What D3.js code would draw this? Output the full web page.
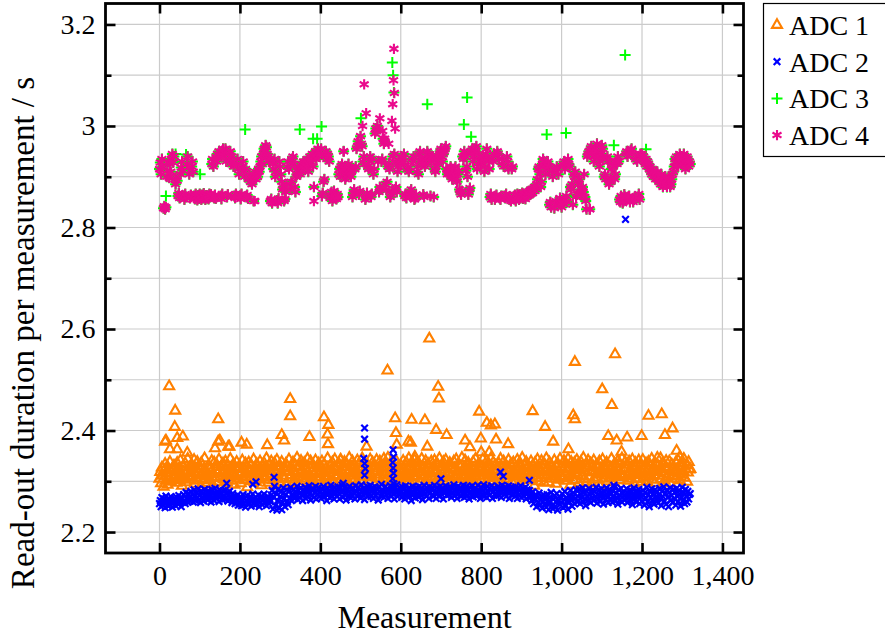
<!DOCTYPE html>
<html><head><meta charset="utf-8">
<script src="https://cdn.jsdelivr.net/npm/d3@7"></script>
<style>html,body{margin:0;padding:0;background:#fff;} svg{display:block;font-family:"Liberation Serif","Times New Roman",serif;}</style>
</head><body><svg id="c" width="885" height="637"></svg>
<script>
// measurement spacing of the sampled series (values at measurement 0, 2, 4, ...)
const step = 2;
const adc1 = [
2.305,2.318,2.296,2.327,2.311,2.289,2.322,2.334,2.301,2.315,2.293,2.326,2.308,2.338,2.299,2.317,2.325,2.304,2.331,2.312,
2.32,2.297,2.336,2.309,2.324,2.302,2.341,2.314,2.291,2.329,2.318,2.306,2.335,2.298,2.321,2.344,2.31,2.327,2.303,2.316,
2.333,2.307,2.319,2.342,2.295,2.325,2.312,2.338,2.301,2.317,2.329,2.289,2.336,2.313,2.304,2.323,2.345,2.309,2.32,2.297,
2.311,2.331,2.302,2.326,2.317,2.34,2.294,2.314,2.337,2.306,2.322,2.333,2.299,2.318,2.343,2.308,2.328,2.315,2.29,2.335,
2.304,2.321,2.339,2.312,2.297,2.33,2.319,2.308,2.344,2.323,2.301,2.316,2.334,2.293,2.327,2.31,2.338,2.305,2.324,2.313,
2.329,2.296,2.317,2.341,2.309,2.326,2.302,2.335,2.314,2.288,2.322,2.337,2.307,2.319,2.332,2.3,2.316,2.343,2.311,2.325,
2.298,2.334,2.313,2.321,2.305,2.339,2.318,2.292,2.328,2.31,2.336,2.303,2.324,2.345,2.315,2.297,2.331,2.308,2.32,2.339,
2.314,2.302,2.327,2.336,2.291,2.319,2.342,2.306,2.323,2.33,2.299,2.317,2.338,2.311,2.326,2.304,2.321,2.334,2.296,2.329,
2.318,2.343,2.307,2.325,2.312,2.296,2.337,2.32,2.303,2.331,2.315,2.346,2.309,2.294,2.328,2.317,2.34,2.305,2.322,2.313,
2.336,2.301,2.323,2.31,2.344,2.318,2.29,2.327,2.339,2.306,2.32,2.332,2.298,2.314,2.341,2.309,2.325,2.302,2.335,2.317,
2.307,2.328,2.339,2.295,2.319,2.333,2.311,2.324,2.302,2.345,2.316,2.293,2.33,2.321,2.308,2.337,2.299,2.326,2.343,2.312,
2.324,2.31,2.297,2.335,2.318,2.342,2.304,2.329,2.314,2.291,2.338,2.322,2.307,2.333,2.3,2.319,2.346,2.311,2.327,2.303,
2.339,2.316,2.33,2.305,2.324,2.296,2.341,2.313,2.334,2.32,2.301,2.328,2.345,2.309,2.317,2.336,2.293,2.323,2.311,2.332,
2.3,2.326,2.343,2.314,2.308,2.337,2.321,2.295,2.33,2.317,2.342,2.305,2.325,2.313,2.339,2.298,2.329,2.318,2.306,2.344,
2.319,2.335,2.303,2.327,2.346,2.311,2.298,2.323,2.338,2.307,2.316,2.332,2.29,2.324,2.341,2.312,2.304,2.33,2.321,2.309,
2.332,2.297,2.318,2.34,2.306,2.325,2.314,2.337,2.301,2.322,2.345,2.31,2.328,2.295,2.319,2.335,2.308,2.342,2.316,2.326,
2.311,2.338,2.323,2.299,2.331,2.317,2.344,2.305,2.326,2.313,2.292,2.34,2.32,2.307,2.334,2.324,2.3,2.316,2.339,2.309,
2.327,2.303,2.341,2.315,2.321,2.296,2.333,2.31,2.345,2.319,2.306,2.329,2.314,2.338,2.298,2.323,2.342,2.312,2.301,2.331,
2.316,2.336,2.308,2.324,2.29,2.317,2.339,2.326,2.304,2.343,2.313,2.32,2.333,2.297,2.328,2.31,2.346,2.318,2.325,2.305,
2.341,2.312,2.325,2.302,2.336,2.319,2.307,2.33,2.315,2.294,2.338,2.322,2.309,2.344,2.318,2.301,2.327,2.335,2.311,2.32,
2.303,2.329,2.343,2.317,2.311,2.326,2.298,2.34,2.321,2.306,2.333,2.314,2.345,2.3,2.323,2.337,2.308,2.319,2.331,2.296,
2.322,2.308,2.335,2.313,2.344,2.301,2.327,2.318,2.339,2.292,2.316,2.331,2.305,2.325,2.342,2.31,2.321,2.334,2.299,2.314,
2.337,2.316,2.3,2.328,2.319,2.342,2.309,2.323,2.296,2.334,2.312,2.346,2.305,2.32,2.33,2.314,2.338,2.302,2.326,2.317,
2.308,2.325,2.339,2.304,2.331,2.315,2.291,2.336,2.322,2.311,2.343,2.3,2.327,2.318,2.306,2.34,2.313,2.324,2.297,2.333,
2.32,2.345,2.312,2.326,2.298,2.337,2.317,2.305,2.33,2.321,2.309,2.341,2.314,2.295,2.328,2.335,2.303,2.319,2.344,2.31,
2.329,2.306,2.323,2.34,2.315,2.301,2.333,2.319,2.344,2.308,2.326,2.293,2.338,2.312,2.321,2.302,2.336,2.317,2.328,2.342,
2.313,2.334,2.297,2.322,2.338,2.31,2.325,2.346,2.304,2.317,2.331,2.299,2.327,2.341,2.309,2.32,2.335,2.296,2.318,2.33,
2.341,2.303,2.319,2.332,2.307,2.326,2.313,2.339,2.29,2.324,2.316,2.343,2.305,2.33,2.322,2.311,2.337,2.3,2.328,2.315,
2.306,2.327,2.344,2.312,2.321,2.298,2.335,2.317,2.329,2.309,2.34,2.32,2.302,2.333,2.314,2.345,2.308,2.324,2.311,2.338,
2.325,2.31,2.333,2.301,2.339,2.318,2.305,2.329,2.343,2.314,2.296,2.327,2.336,2.312,2.32,2.304,2.341,2.317,2.331,2.299,
2.316,2.342,2.307,2.324,2.313,2.335,2.3,2.322,2.338,2.309,2.331,2.318,2.344,2.303,2.326,2.312,2.297,2.334,2.321,2.346,
2.33,2.311,2.323,2.345,2.304,2.319,2.336,2.315,2.301,2.328,2.34,2.308,2.324,2.313,2.339,2.296,2.32,2.333,2.31,2.327,
2.318,2.305,2.337,2.322,2.31,2.341,2.315,2.302,2.329,2.336,2.313,2.32,2.344,2.307,2.325,2.332,2.299,2.317,2.338,2.323,
2.324];
const adc2 = [
2.256,2.262,2.25,2.268,2.253,2.259,2.265,2.248,2.271,2.257,2.262,2.251,2.266,2.254,2.27,2.26,2.249,2.264,2.258,2.267,
2.252,2.269,2.261,2.255,2.272,2.258,2.264,2.25,2.267,2.259,2.274,2.262,2.256,2.278,2.265,2.259,2.276,2.268,2.261,2.28,
2.266,2.274,2.259,2.283,2.27,2.262,2.277,2.268,2.285,2.264,2.273,2.258,2.281,2.269,2.276,2.261,2.284,2.272,2.266,2.279,
2.263,2.281,2.27,2.275,2.259,2.284,2.268,2.277,2.262,2.286,2.271,2.266,2.279,2.273,2.26,2.283,2.269,2.276,2.264,2.281,
2.272,2.265,2.283,2.268,2.277,2.261,2.274,2.28,2.266,2.27,2.258,2.276,2.264,2.271,2.256,2.268,2.262,2.273,2.253,2.266,
2.259,2.27,2.252,2.264,2.274,2.256,2.267,2.249,2.261,2.272,2.254,2.265,2.258,2.27,2.251,2.263,2.275,2.257,2.266,2.253,
2.268,2.256,2.262,2.273,2.25,2.266,2.259,2.271,2.254,2.264,2.275,2.258,2.267,2.252,2.262,2.27,2.256,2.265,2.26,2.273,
2.282,2.245,2.268,2.29,2.252,2.276,2.243,2.262,2.285,2.248,2.27,2.279,2.244,2.258,2.287,2.266,2.25,2.274,2.283,2.26,
2.254,2.28,2.267,2.288,2.262,2.275,2.27,2.284,2.266,2.279,2.271,2.29,2.264,2.282,2.276,2.268,2.287,2.273,2.262,2.281,
2.274,2.288,2.266,2.279,2.284,2.27,2.291,2.276,2.263,2.283,2.272,2.286,2.268,2.278,2.29,2.265,2.281,2.274,2.287,2.27,
2.279,2.266,2.285,2.273,2.29,2.269,2.282,2.276,2.262,2.287,2.274,2.28,2.267,2.292,2.271,2.284,2.277,2.265,2.288,2.275,
2.283,2.27,2.289,2.276,2.265,2.286,2.279,2.292,2.268,2.281,2.274,2.288,2.263,2.277,2.284,2.271,2.29,2.275,2.267,2.285,
2.272,2.286,2.278,2.265,2.291,2.28,2.27,2.288,2.275,2.283,2.267,2.293,2.279,2.273,2.287,2.264,2.282,2.276,2.29,2.27,
2.284,2.275,2.292,2.27,2.281,2.287,2.266,2.279,2.289,2.273,2.285,2.277,2.263,2.288,2.28,2.271,2.294,2.276,2.282,2.268,
2.279,2.29,2.273,2.285,2.266,2.283,2.276,2.291,2.27,2.281,2.288,2.274,2.265,2.286,2.278,2.293,2.27,2.282,2.275,2.287,
2.28,2.268,2.289,2.276,2.284,2.265,2.291,2.273,2.282,2.278,2.287,2.27,2.285,2.262,2.279,2.29,2.274,2.283,2.267,2.288,
2.276,2.284,2.269,2.29,2.278,2.273,2.286,2.264,2.281,2.292,2.275,2.283,2.27,2.287,2.279,2.266,2.289,2.277,2.284,2.272,
2.285,2.271,2.292,2.279,2.266,2.288,2.276,2.283,2.27,2.29,2.281,2.274,2.287,2.265,2.282,2.278,2.291,2.272,2.286,2.279,
2.274,2.289,2.281,2.268,2.286,2.277,2.293,2.271,2.284,2.279,2.266,2.29,2.275,2.283,2.288,2.27,2.281,2.276,2.292,2.268,
2.283,2.276,2.29,2.272,2.285,2.265,2.288,2.279,2.274,2.291,2.269,2.284,2.278,2.287,2.271,2.282,2.292,2.275,2.28,2.266,
2.288,2.274,2.281,2.293,2.27,2.285,2.277,2.268,2.29,2.279,2.286,2.273,2.283,2.291,2.266,2.28,2.287,2.275,2.284,2.271,
2.279,2.29,2.272,2.286,2.281,2.268,2.292,2.277,2.284,2.274,2.289,2.27,2.283,2.278,2.291,2.266,2.285,2.28,2.273,2.288,
2.276,2.284,2.27,2.289,2.279,2.266,2.287,2.274,2.282,2.291,2.268,2.28,2.285,2.271,2.278,2.288,2.265,2.283,2.276,2.27,
2.282,2.268,2.276,2.262,2.279,2.256,2.271,2.265,2.274,2.25,2.268,2.258,2.277,2.252,2.264,2.27,2.247,2.261,2.273,2.255,
2.266,2.249,2.274,2.258,2.244,2.268,2.26,2.278,2.252,2.246,2.265,2.272,2.25,2.259,2.276,2.243,2.262,2.27,2.254,2.267,
2.258,2.275,2.248,2.264,2.28,2.253,2.268,2.261,2.245,2.272,2.259,2.282,2.264,2.251,2.27,2.277,2.256,2.266,2.283,2.26,
2.271,2.262,2.284,2.256,2.275,2.268,2.287,2.259,2.279,2.265,2.252,2.281,2.27,2.263,2.286,2.274,2.258,2.278,2.267,2.283,
2.262,2.279,2.27,2.288,2.257,2.274,2.266,2.283,2.26,2.276,2.285,2.268,2.255,2.28,2.272,2.264,2.287,2.27,2.258,2.277,
2.284,2.266,2.275,2.259,2.281,2.27,2.288,2.262,2.277,2.268,2.255,2.283,2.273,2.265,2.286,2.259,2.276,2.28,2.263,2.272,
2.267,2.285,2.258,2.276,2.27,2.283,2.262,2.279,2.254,2.272,2.287,2.265,2.28,2.259,2.275,2.268,2.284,2.256,2.277,2.27,
2.261,2.282,2.272,2.253,2.278,2.266,2.288,2.259,2.274,2.25,2.28,2.268,2.285,2.262,2.276,2.255,2.283,2.27,2.264,2.279,
2.257,2.274,2.286,2.265,2.252,2.28,2.27,2.289,2.261,2.276,2.255,2.283,2.268,2.25,2.278,2.287,2.263,2.272,2.258,2.284,
2.266,2.279,2.253,2.286,2.27,2.26,2.282,2.275,2.251,2.268,2.288,2.262,2.277,2.256,2.284,2.271,2.259,2.28,2.265,2.274,
2.276];
const adc3 = [
2.915,2.928,2.905,2.935,2.92,2.838,2.842,2.836,2.84,2.9,2.912,2.93,2.898,2.925,2.91,2.935,2.945,2.928,2.94,2.895,
2.885,2.9,2.892,2.862,2.868,2.858,2.905,2.918,2.93,2.912,2.862,2.855,2.866,2.86,2.925,2.94,2.918,2.905,2.858,2.864,
2.92,2.93,2.91,2.862,2.856,2.866,2.86,2.854,2.863,2.857,2.866,2.86,2.855,2.864,2.858,2.867,2.86,2.855,2.863,2.858,
2.862,2.856,2.866,2.86,2.865,2.925,2.935,2.92,2.858,2.864,2.857,2.93,2.945,2.935,2.95,2.942,2.862,2.856,2.866,2.955,
2.948,2.94,2.955,2.93,2.86,2.865,2.945,2.935,2.95,2.925,2.94,2.93,2.92,2.862,2.858,2.866,2.925,2.935,2.915,2.905,
2.862,2.856,2.866,2.92,2.93,2.91,2.9,2.915,2.86,2.864,2.857,2.895,2.905,2.89,2.9,2.885,2.895,2.852,2.9,2.91,
2.895,2.905,2.9,2.915,2.91,2.92,2.93,2.94,2.925,2.945,2.955,2.95,2.962,2.958,2.945,2.94,2.93,2.935,2.852,2.856,
2.848,2.925,2.915,2.935,2.9,2.91,2.853,2.848,2.857,2.93,2.92,2.905,2.89,2.875,2.88,2.852,2.856,2.87,2.885,2.92,
2.93,2.915,2.885,2.875,2.89,2.935,2.94,2.925,2.88,2.87,2.9,2.905,2.91,2.92,2.915,2.905,2.925,2.91,2.92,2.93,
2.915,2.925,2.93,2.92,2.935,2.91,2.925,2.94,2.93,2.935,2.945,2.92,2.88,2.94,2.95,2.935,2.945,2.955,2.94,2.95,
2.945,2.955,2.862,2.868,2.89,2.895,2.94,2.95,2.935,2.945,2.94,2.93,2.858,2.864,2.87,2.852,2.858,2.872,2.865,2.86,
2.856,2.866,2.86,2.905,2.915,2.9,2.92,2.925,2.91,2.95,2.915,2.895,2.9,2.92,2.91,2.925,2.905,2.915,2.9,2.91,
2.86,2.868,2.875,2.915,2.92,2.955,2.96,2.97,2.865,2.872,2.98,2.965,2.96,2.93,2.94,2.925,2.855,2.86,2.868,2.92,
2.915,2.93,2.94,2.86,2.866,2.935,2.905,2.915,2.985,2.995,2.99,3.0,2.93,2.87,2.88,2.875,2.93,2.935,2.975,2.965,
2.97,2.885,2.875,2.89,2.92,2.925,2.915,2.86,2.865,2.872,2.94,2.93,2.945,2.875,2.88,2.87,2.91,2.92,2.925,2.93,
2.925,2.94,2.935,2.93,2.945,2.862,2.866,2.858,2.915,2.92,2.91,2.87,2.862,2.875,2.935,2.93,2.94,2.855,2.858,2.865,
2.91,2.92,2.905,2.945,2.95,2.93,2.935,2.925,2.865,2.86,2.92,2.925,2.935,2.95,2.945,2.94,2.935,2.862,2.93,2.94,
2.94,2.86,2.915,2.91,2.92,2.935,2.94,2.925,2.945,2.95,2.955,2.94,2.93,2.945,2.95,2.955,2.96,2.915,2.905,2.91,
2.905,2.915,2.92,2.91,2.895,2.9,2.91,2.905,2.92,2.895,2.89,2.905,2.912,2.875,2.87,2.865,2.872,2.94,2.935,2.95,
2.94,2.912,2.92,2.9,2.865,2.872,2.878,2.95,2.945,2.955,2.93,2.94,2.955,2.95,2.96,2.915,2.925,2.945,2.94,2.93,
2.925,2.93,2.94,2.935,2.91,2.92,2.945,2.955,2.94,2.93,2.915,2.86,2.866,2.855,2.935,2.93,2.945,2.855,2.86,2.864,
2.95,2.945,2.935,2.858,2.855,2.862,2.925,2.935,2.92,2.862,2.858,2.866,2.94,2.93,2.915,2.855,2.86,2.852,2.915,2.92,
2.86,2.856,2.864,2.852,2.858,2.866,2.86,2.855,2.865,2.858,2.862,2.868,2.857,2.866,2.86,2.856,2.864,2.87,2.862,2.868,
2.872,2.865,2.87,2.876,2.868,2.875,2.88,2.872,2.878,2.885,2.895,2.915,2.92,2.905,2.88,2.89,2.925,2.935,2.93,2.92,
2.905,2.915,2.925,2.93,2.92,2.845,2.85,2.84,2.91,2.9,2.915,2.838,2.845,2.852,2.92,2.915,2.905,2.85,2.858,2.845,
2.84,2.848,2.925,2.93,2.915,2.855,2.862,2.85,2.935,2.925,2.92,2.88,2.875,2.885,2.845,2.905,2.9,2.91,2.86,2.865,
2.89,2.885,2.895,2.87,2.865,2.875,2.88,2.87,2.905,2.86,2.852,2.836,2.94,2.945,2.95,2.836,2.955,2.96,2.945,2.95,
2.93,2.94,2.955,2.95,2.965,2.94,2.935,2.92,2.93,2.945,2.962,2.955,2.94,2.9,2.905,2.895,2.935,2.94,2.93,2.885,
2.89,2.895,2.915,2.925,2.92,2.9,2.895,2.905,2.93,2.925,2.94,2.93,2.855,2.85,2.862,2.858,2.848,2.852,2.865,2.86,
2.945,2.95,2.94,2.858,2.862,2.85,2.952,2.955,2.945,2.85,2.855,2.86,2.935,2.94,2.93,2.86,2.866,2.855,2.945,2.94,
2.945,2.935,2.94,2.93,2.925,2.935,2.92,2.93,2.925,2.915,2.92,2.91,2.905,2.915,2.9,2.91,2.905,2.895,2.9,2.91,
2.895,2.89,2.9,2.885,2.905,2.895,2.88,2.89,2.885,2.9,2.885,2.88,2.895,2.9,2.89,2.88,2.885,2.895,2.905,2.91,
2.92,2.935,2.93,2.94,2.925,2.92,2.935,2.945,2.93,2.94,2.925,2.935,2.945,2.93,2.915,2.925,2.94,2.935,2.92,2.93,
2.925];
const adc4 = [
2.915,2.928,2.905,2.935,2.92,2.838,2.842,2.836,2.84,2.9,2.912,2.93,2.898,2.925,2.91,2.935,2.945,2.928,2.94,2.895,
2.885,2.9,2.892,2.862,2.868,2.858,2.905,2.918,2.93,2.912,2.862,2.855,2.866,2.86,2.925,2.94,2.918,2.905,2.858,2.864,
2.92,2.93,2.91,2.862,2.856,2.866,2.86,2.854,2.863,2.857,2.866,2.86,2.855,2.864,2.858,2.867,2.86,2.855,2.863,2.858,
2.862,2.856,2.866,2.86,2.865,2.925,2.935,2.92,2.858,2.864,2.857,2.93,2.945,2.935,2.95,2.942,2.862,2.856,2.866,2.955,
2.948,2.94,2.955,2.93,2.86,2.865,2.945,2.935,2.95,2.925,2.94,2.93,2.92,2.862,2.858,2.866,2.925,2.935,2.915,2.905,
2.862,2.856,2.866,2.92,2.93,2.91,2.9,2.915,2.86,2.864,2.857,2.895,2.905,2.89,2.9,2.885,2.895,2.852,2.9,2.91,
2.895,2.905,2.9,2.915,2.91,2.92,2.93,2.94,2.925,2.945,2.955,2.95,2.962,2.958,2.945,2.94,2.93,2.935,2.852,2.856,
2.848,2.925,2.915,2.935,2.9,2.91,2.853,2.848,2.857,2.93,2.92,2.905,2.89,2.875,2.88,2.852,2.856,2.87,2.885,2.92,
2.93,2.915,2.885,2.875,2.89,2.935,2.94,2.925,2.88,2.87,2.9,2.905,2.91,2.92,2.915,2.905,2.925,2.91,2.92,2.93,
2.915,2.925,2.93,2.92,2.935,2.91,2.925,2.94,2.93,2.935,2.945,2.92,2.88,2.94,2.95,2.935,2.945,2.955,2.94,2.95,
2.945,2.955,2.862,2.868,2.89,2.895,2.94,2.95,2.935,2.945,2.94,2.93,2.858,2.864,2.87,2.852,2.858,2.872,2.865,2.86,
2.856,2.866,2.86,2.905,2.915,2.9,2.92,2.925,2.91,2.95,2.915,2.895,2.9,2.92,2.91,2.925,2.905,2.915,2.9,2.91,
2.86,2.868,2.875,2.915,2.92,2.955,2.96,2.97,2.865,2.872,2.98,2.965,2.96,2.93,2.94,2.925,2.855,2.86,2.868,2.92,
2.915,2.93,2.94,2.86,2.866,2.935,2.905,2.915,2.985,2.995,2.99,3.0,2.93,2.87,2.88,2.875,2.93,2.935,2.975,2.965,
2.97,2.885,2.875,2.89,2.92,2.925,2.915,2.86,2.865,2.872,2.94,2.93,2.945,2.875,2.88,2.87,2.91,2.92,2.925,2.93,
2.925,2.94,2.935,2.93,2.945,2.862,2.866,2.858,2.915,2.92,2.91,2.87,2.862,2.875,2.935,2.93,2.94,2.855,2.858,2.865,
2.91,2.92,2.905,2.945,2.95,2.93,2.935,2.925,2.865,2.86,2.92,2.925,2.935,2.95,2.945,2.94,2.935,2.862,2.93,2.94,
2.94,2.86,2.915,2.91,2.92,2.935,2.94,2.925,2.945,2.95,2.955,2.94,2.93,2.945,2.95,2.955,2.96,2.915,2.905,2.91,
2.905,2.915,2.92,2.91,2.895,2.9,2.91,2.905,2.92,2.895,2.89,2.905,2.912,2.875,2.87,2.865,2.872,2.94,2.935,2.95,
2.94,2.912,2.92,2.9,2.865,2.872,2.878,2.95,2.945,2.955,2.93,2.94,2.955,2.95,2.96,2.915,2.925,2.945,2.94,2.93,
2.925,2.93,2.94,2.935,2.91,2.92,2.945,2.955,2.94,2.93,2.915,2.86,2.866,2.855,2.935,2.93,2.945,2.855,2.86,2.864,
2.95,2.945,2.935,2.858,2.855,2.862,2.925,2.935,2.92,2.862,2.858,2.866,2.94,2.93,2.915,2.855,2.86,2.852,2.915,2.92,
2.86,2.856,2.864,2.852,2.858,2.866,2.86,2.855,2.865,2.858,2.862,2.868,2.857,2.866,2.86,2.856,2.864,2.87,2.862,2.868,
2.872,2.865,2.87,2.876,2.868,2.875,2.88,2.872,2.878,2.885,2.895,2.915,2.92,2.905,2.88,2.89,2.925,2.935,2.93,2.92,
2.905,2.915,2.925,2.93,2.92,2.845,2.85,2.84,2.91,2.9,2.915,2.838,2.845,2.852,2.92,2.915,2.905,2.85,2.858,2.845,
2.84,2.848,2.925,2.93,2.915,2.855,2.862,2.85,2.935,2.925,2.92,2.88,2.875,2.885,2.845,2.905,2.9,2.91,2.86,2.865,
2.89,2.885,2.895,2.87,2.865,2.875,2.88,2.87,2.905,2.86,2.852,2.836,2.94,2.945,2.95,2.836,2.955,2.96,2.945,2.95,
2.93,2.94,2.955,2.95,2.965,2.94,2.935,2.92,2.93,2.945,2.962,2.955,2.94,2.9,2.905,2.895,2.935,2.94,2.93,2.885,
2.89,2.895,2.915,2.925,2.92,2.9,2.895,2.905,2.93,2.925,2.94,2.93,2.855,2.85,2.862,2.858,2.848,2.852,2.865,2.86,
2.945,2.95,2.94,2.858,2.862,2.85,2.952,2.955,2.945,2.85,2.855,2.86,2.935,2.94,2.93,2.86,2.866,2.855,2.945,2.94,
2.945,2.935,2.94,2.93,2.925,2.935,2.92,2.93,2.925,2.915,2.92,2.91,2.905,2.915,2.9,2.91,2.905,2.895,2.9,2.91,
2.895,2.89,2.9,2.885,2.905,2.895,2.88,2.89,2.885,2.9,2.885,2.88,2.895,2.9,2.89,2.88,2.885,2.895,2.905,2.91,
2.92,2.935,2.93,2.94,2.925,2.92,2.935,2.945,2.93,2.94,2.925,2.935,2.945,2.93,2.915,2.925,2.94,2.935,2.92,2.93,
2.925];
// isolated points: [measurement, seconds]
const adc1Extra = [[14,2.378],[16,2.38],[24,2.487],[26,2.363],[38,2.407],[39,2.439],[44,2.385],[44,2.363],[58,2.388],[69,2.356],[138,2.365],[146,2.422],[146,2.378],[150,2.38],[171,2.368],[174,2.368],[204,2.376],[217,2.372],[268,2.371],[304,2.391],[310,2.38],[325,2.462],[325,2.428],[373,2.387],[409,2.426],[420,2.411],[418,2.392],[419,2.373],[451,2.342],[515,2.368],[567,2.518],[586,2.424],[588,2.395],[590,2.372],[619,2.378],[625,2.376],[627,2.421],[635,2.348],[660,2.42],[666,2.368],[671,2.581],[688,2.401],[693,2.486],[695,2.463],[714,2.391],[760,2.38],[772,2.367],[795,2.437],[799,2.384],[800,2.357],[814,2.415],[820,2.357],[824,2.41],[834,2.412],[837,2.382],[867,2.373],[928,2.438],[959,2.407],[979,2.378],[1017,2.363],[1029,2.43],[1033,2.422],[1033,2.535],[1101,2.481],[1116,2.389],[1125,2.45],[1133,2.55],[1137,2.38],[1149,2.358],[1163,2.386],[1199,2.389],[1216,2.429],[1249,2.432],[1257,2.391],[1276,2.404],[1286,2.36],[1294,2.348]];
const adc2Extra = [[510,2.405],[510,2.383],[508,2.345],[510,2.335],[512,2.325],[510,2.312],[581,2.362],[582,2.348],[580,2.337],[581,2.326],[582,2.316],[580,2.305],[583,2.295],[1159,2.816],[167,2.296],[285,2.308],[457,2.296],[232,2.294],[240,2.299],[700,2.305],[848,2.318],[855,2.31],[920,2.302],[1130,2.292]];
const adc3Extra = [[16,2.862],[101,2.905],[66,2.944],[40,2.945],[213,2.993],[349,2.993],[382,2.975],[392,2.975],[403,2.999],[501,3.015],[579,3.125],[581,3.1],[583,3.066],[666,3.043],[757,3.003],[765,3.056],[775,2.979],[963,2.983],[1011,2.986],[1158,3.14],[1210,2.954],[1130,2.962]];
const adc4Extra = [[384,2.852],[458,2.95],[509,3.082],[514,3.025],[505,3.0],[548,3.015],[555,2.99],[583,3.152],[582,3.09],[584,3.065],[580,3.043],[578,3.01],[586,2.995],[1070,2.836],[188,2.86],[200,2.862],[237,2.852],[560,2.975],[570,2.965]];

const seriesNames = ["ADC 1","ADC 2","ADC 3","ADC 4"];
const seriesColors = ["#ff8000","#0000ff","#00ff00","#ea0a8c"];
const xTicks = [0,200,400,600,800,1000,1200,1400];
const xTickLabels = ["0","200","400","600","800","1,000","1,200","1,400"];
const yTicks = [2.2,2.4,2.6,2.8,3.0,3.2];
const yTickLabels = ["2.2","2.4","2.6","2.8","3","3.2"];
const yMinorTicks = [2.3,2.5,2.7,2.9,3.1];

(function(){
const svg = d3.select("#c");
const L = 105.5, R = 743.5, T = 3.5, B = 553;
const x = d3.scaleLinear().domain([-134.3,1452.4]).range([L,R]);
const y = d3.scaleLinear().domain([2.1587,3.2413]).range([B,T]);

// grid
const grid = svg.append("g").attr("stroke","#cbcbcb").attr("stroke-width",1.2);
grid.selectAll("line.v").data(xTicks).join("line").attr("class","v").attr("x1",d=>x(d)).attr("x2",d=>x(d)).attr("y1",T).attr("y2",B);
grid.selectAll("line.h").data(yTicks.concat(yMinorTicks)).join("line").attr("class","h").attr("x1",L).attr("x2",R).attr("y1",d=>y(d)).attr("y2",d=>y(d));

// marks
const shapes = [
  () => { const a=5.8; return `M0,${-a}L${a*0.866},${a/2}L${-a*0.866},${a/2}Z`; },
  () => { const a=3.3; return `M${-a},${-a}L${a},${a}M${-a},${a}L${a},${-a}`; },
  () => { const a=5.5; return `M${-a},0H${a}M0,${-a}V${a}`; },
  () => { const a=5.2, c=a*0.866, s=a*0.5; return `M0,${-a}V${a}M${-c},${-s}L${c},${s}M${-c},${s}L${c},${-s}`; }
];
const widths = [2.1,2.2,2.0,2.1];
const mains = [adc1,adc2,adc3,adc4];
const extras = [adc1Extra,adc2Extra,adc3Extra,adc4Extra];
const plot = svg.append("g");
mains.forEach((arr,k)=>{
  const pts = arr.map((v,i)=>[i*step,v]).concat(extras[k]);
  plot.append("g").attr("fill","none").attr("stroke",seriesColors[k]).attr("stroke-width",widths[k])
    .selectAll("path").data(pts).join("path")
    .attr("transform",d=>`translate(${x(d[0])},${y(d[1])})`)
    .attr("d",shapes[k]);
});

// axes
const fs = 28;
const ax = svg.append("g").style("font-size",fs+"px");
const axB = d3.axisBottom(x).tickValues(xTicks).tickFormat((d,i)=>xTickLabels[i]).tickSizeInner(-10).tickSizeOuter(0).tickPadding(12);
const gB = ax.append("g").attr("transform",`translate(0,${B})`).call(axB);
const axT = d3.axisTop(x).tickValues(xTicks).tickFormat("").tickSizeInner(-10).tickSizeOuter(0);
const gT = ax.append("g").attr("transform",`translate(0,${T})`).call(axT);
const axL = d3.axisLeft(y).tickValues(yTicks).tickFormat((d,i)=>yTickLabels[i]).tickSizeInner(-10).tickSizeOuter(0).tickPadding(10);
const gL = ax.append("g").attr("transform",`translate(${L},0)`).call(axL);
const axR = d3.axisRight(y).tickValues(yTicks).tickFormat("").tickSizeInner(-10).tickSizeOuter(0);
const gR = ax.append("g").attr("transform",`translate(${R},0)`).call(axR);
const axLm = d3.axisLeft(y).tickValues(yMinorTicks).tickFormat("").tickSizeInner(-6).tickSizeOuter(0);
const gLm = ax.append("g").attr("transform",`translate(${L},0)`).call(axLm);
const axRm = d3.axisRight(y).tickValues(yMinorTicks).tickFormat("").tickSizeInner(-6).tickSizeOuter(0);
const gRm = ax.append("g").attr("transform",`translate(${R},0)`).call(axRm);
[gB,gT,gL,gR,gLm,gRm].forEach(g=>{
  g.select(".domain").remove();
  g.selectAll(".tick line").attr("stroke","#000").attr("stroke-width",2.6);
  g.selectAll(".tick text").attr("fill","#000").style("font-family",'"Liberation Serif",serif').style("font-size",fs+"px");
});
svg.append("rect").attr("x",L).attr("y",T).attr("width",R-L).attr("height",B-T)
  .attr("fill","none").attr("stroke","#000").attr("stroke-width",2.8);

// axis titles
svg.append("text").attr("x",(L+R)/2).attr("y",628).attr("text-anchor","middle").style("font-size","32px").text("Measurement");
svg.append("text").attr("transform","translate(34,333) rotate(-90)").attr("text-anchor","middle").style("font-size","33px").text("Read-out duration per measurement / s");

// legend
const lg = svg.append("g");
lg.append("rect").attr("x",763.5).attr("y",3.5).attr("width",140).attr("height",153).attr("fill","#fff").attr("stroke","#000").attr("stroke-width",1.2);
seriesNames.forEach((n,k)=>{
  const cy = 25 + k*36.7;
  lg.append("path").attr("transform",`translate(777,${cy})`).attr("d",shapes[k]()).attr("fill","none").attr("stroke",seriesColors[k]).attr("stroke-width",widths[k]);
  lg.append("text").attr("x",789).attr("y",cy+10).style("font-size","28px").text(n);
});
})();
</script></body></html>
